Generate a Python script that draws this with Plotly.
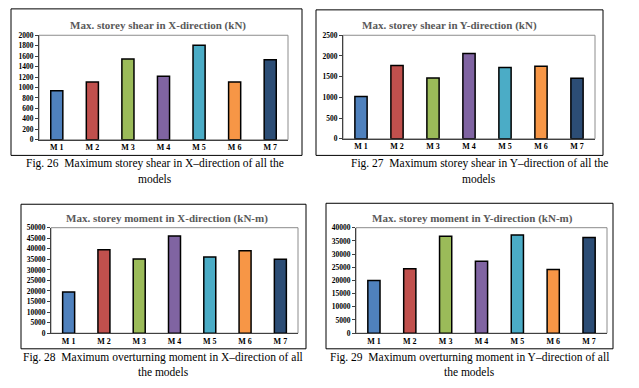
import plotly.graph_objects as go

W, H = 639, 388

models = ["M 1", "M 2", "M 3", "M 4", "M 5", "M 6", "M 7"]
bar_colors = ["#4F81BD", "#C0504D", "#9BBB59", "#8064A2", "#4BACC6", "#F79646", "#2C4D75"]

shear_x = [940, 1104, 1546, 1218, 1811, 1104, 1533]
shear_y = [1022, 1769, 1470, 2060, 1722, 1753, 1462]
moment_x = [19500, 39500, 35200, 46100, 36100, 39100, 35000]
moment_y = [20000, 24400, 36750, 27250, 37250, 24100, 36250]

titles = [
    "Max. storey shear in X-direction (kN)",
    "Max. storey shear in Y-direction (kN)",
    "Max. storey moment in X-direction (kN-m)",
    "Max. storey moment in Y-direction (kN-m)",
]
captions = [
    ["Fig. 26  Maximum storey shear in X\u2013direction of all the", "models"],
    ["Fig. 27  Maximum storey shear in Y\u2013direction of all the", "models"],
    ["Fig. 28  Maximum overturning moment in X\u2013direction of all", "the models"],
    ["Fig. 29  Maximum overturning moment in Y\u2013direction of all", "the models"],
]
y_max = [2000, 2500, 50000, 40000]
y_dtick = [200, 500, 5000, 5000]
series = [shear_x, shear_y, moment_x, moment_y]

# layout boxes in pixels (x0, x1, y0, y1) -- plot areas and outer frames
plot_px = [(39, 288, 32, 139), (343, 595, 32, 138), (51, 298, 229, 337), (356, 607, 229, 337)]
frame_px = [(11, 302, 5, 155), (316, 603, 6, 155), (21, 306, 205, 353), (326, 613, 204, 353)]
title_pos = [(158, 22), (450, 22), (167, 220), (472, 220)]
cap_y = [(163, 179), (163, 179), (362, 377), (362, 377)]
cap_x = [155, 479, 163, 469]

def px(x):
    return x / W

def py(y):
    return 1 - y / H

fig = go.Figure()
shapes = []
annotations = []
layout = {}

for i in range(4):
    sfx = "" if i == 0 else str(i + 1)
    x0, x1, y0, y1 = plot_px[i]
    fig.add_trace(go.Bar(
        x=models, y=series[i],
        marker=dict(color=bar_colors, line=dict(color="#000000", width=1.5)),
        xaxis="x" + sfx, yaxis="y" + sfx, showlegend=False,
        hoverinfo="x+y",
    ))
    layout["xaxis" + sfx] = dict(
        domain=[px(x0), px(x1)], anchor="y" + sfx,
        showline=True, linecolor="#404040", linewidth=1,
        ticks="", showgrid=False, zeroline=False,
        tickfont=dict(family="Liberation Serif", size=8, color="#000000", weight="bold"),
        fixedrange=True,
    )
    layout["yaxis" + sfx] = dict(
        domain=[py(y1), py(y0)], anchor="x" + sfx,
        range=[0, y_max[i]], dtick=y_dtick[i], tick0=0, tickformat="d",
        showline=True, linecolor="#404040", linewidth=1,
        ticks="outside", ticklen=3, tickcolor="#404040",
        showgrid=False, zeroline=False,
        tickfont=dict(family="Liberation Serif", size=7.5, color="#000000", weight="bold"),
        fixedrange=True,
    )
    # plot-area border (gray)
    shapes.append(dict(type="rect", xref="paper", yref="paper",
                       x0=px(x0), x1=px(x1), y0=py(y1), y1=py(y0),
                       line=dict(color="#8c8c8c", width=1), layer="below"))
    # outer frame
    fx0, fx1, fy0, fy1 = frame_px[i]
    shapes.append(dict(type="rect", xref="paper", yref="paper",
                       x0=px(fx0), x1=px(fx1), y0=py(fy1), y1=py(fy0),
                       line=dict(color="#000000", width=1), layer="below"))
    tx, ty = title_pos[i]
    annotations.append(dict(
        text=titles[i], xref="paper", yref="paper",
        x=px(tx), y=py(ty), xanchor="center", yanchor="middle",
        showarrow=False,
        font=dict(family="Liberation Serif", size=11, color="#595959", weight="bold"),
    ))
    for line_text, yy in zip(captions[i], cap_y[i]):
        annotations.append(dict(
            text=line_text, xref="paper", yref="paper",
            x=px(cap_x[i]), y=py(yy), xanchor="center", yanchor="middle",
            showarrow=False,
            font=dict(family="Liberation Serif", size=11.5, color="#000000"),
        ))

fig.update_layout(
    width=W, height=H,
    margin=dict(l=0, r=0, t=0, b=0),
    paper_bgcolor="#ffffff", plot_bgcolor="#ffffff",
    bargap=0.66,
    shapes=shapes, annotations=annotations,
    **layout,
)

fig.write_html(
    "out.html",
    config={"displayModeBar": False},
    post_script="document.body.style.margin='0';document.body.style.overflow='hidden';",
)
